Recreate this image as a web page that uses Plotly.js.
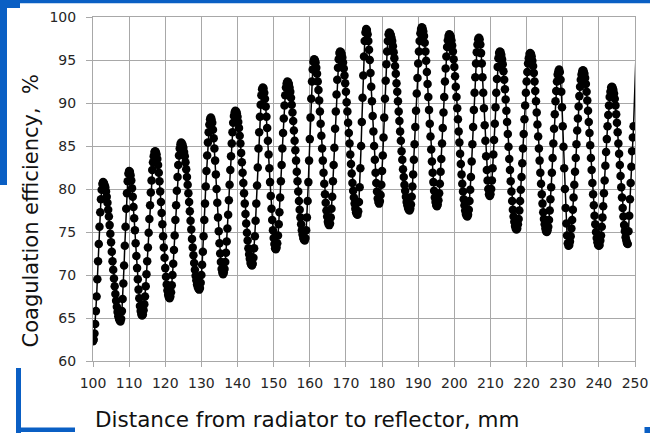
<!DOCTYPE html>
<html>
<head>
<meta charset="utf-8">
<script src="https://cdn.plot.ly/plotly-3.0.1.min.js"></script>
<style>
  html, body { margin: 0; padding: 0; background: #ffffff; }
  #chart { width: 650px; height: 433px; }
</style>
</head>
<body>
<div id="chart"></div>
<script>
// Distance from radiator to reflector, mm (sampling positions of the dots)
const distance = [
100,100.2,100.4,100.6,100.8,101,101.2,101.4,101.6,101.8,
102,102.2,102.4,102.6,102.8,103,103.2,103.4,103.6,103.8,
104,104.2,104.4,104.6,104.8,105,105.2,105.4,105.6,105.8,
106,106.2,106.4,106.6,106.8,107,107.2,107.4,107.6,107.8,
108,108.2,108.4,108.6,108.8,109,109.2,109.4,109.6,109.8,
110,110.2,110.4,110.6,110.8,111,111.2,111.4,111.6,111.8,
112,112.2,112.4,112.6,112.8,113,113.2,113.4,113.6,113.8,
114,114.2,114.4,114.6,114.8,115,115.2,115.4,115.6,115.8,
116,116.2,116.4,116.6,116.8,117,117.2,117.4,117.6,117.8,
118,118.2,118.4,118.6,118.8,119,119.2,119.4,119.6,119.8,
120,120.2,120.4,120.6,120.8,121,121.2,121.4,121.6,121.8,
122,122.2,122.4,122.6,122.8,123,123.2,123.4,123.6,123.8,
124,124.2,124.4,124.6,124.8,125,125.2,125.4,125.6,125.8,
126,126.2,126.4,126.6,126.8,127,127.2,127.4,127.6,127.8,
128,128.2,128.4,128.6,128.8,129,129.2,129.4,129.6,129.8,
130,130.2,130.4,130.6,130.8,131,131.2,131.4,131.6,131.8,
132,132.2,132.4,132.6,132.8,133,133.2,133.4,133.6,133.8,
134,134.2,134.4,134.6,134.8,135,135.2,135.4,135.6,135.8,
136,136.2,136.4,136.6,136.8,137,137.2,137.4,137.6,137.8,
138,138.2,138.4,138.6,138.8,139,139.2,139.4,139.6,139.8,
140,140.2,140.4,140.6,140.8,141,141.2,141.4,141.6,141.8,
142,142.2,142.4,142.6,142.8,143,143.2,143.4,143.6,143.8,
144,144.2,144.4,144.6,144.8,145,145.2,145.4,145.6,145.8,
146,146.2,146.4,146.6,146.8,147,147.2,147.4,147.6,147.8,
148,148.2,148.4,148.6,148.8,149,149.2,149.4,149.6,149.8,
150,150.2,150.4,150.6,150.8,151,151.2,151.4,151.6,151.8,
152,152.2,152.4,152.6,152.8,153,153.2,153.4,153.6,153.8,
154,154.2,154.4,154.6,154.8,155,155.2,155.4,155.6,155.8,
156,156.2,156.4,156.6,156.8,157,157.2,157.4,157.6,157.8,
158,158.2,158.4,158.6,158.8,159,159.2,159.4,159.6,159.8,
160,160.2,160.4,160.6,160.8,161,161.2,161.4,161.6,161.8,
162,162.2,162.4,162.6,162.8,163,163.2,163.4,163.6,163.8,
164,164.2,164.4,164.6,164.8,165,165.2,165.4,165.6,165.8,
166,166.2,166.4,166.6,166.8,167,167.2,167.4,167.6,167.8,
168,168.2,168.4,168.6,168.8,169,169.2,169.4,169.6,169.8,
170,170.2,170.4,170.6,170.8,171,171.2,171.4,171.6,171.8,
172,172.2,172.4,172.6,172.8,173,173.2,173.4,173.6,173.8,
174,174.2,174.4,174.6,174.8,175,175.2,175.4,175.6,175.8,
176,176.2,176.4,176.6,176.8,177,177.2,177.4,177.6,177.8,
178,178.2,178.4,178.6,178.8,179,179.2,179.4,179.6,179.8,
180,180.2,180.4,180.6,180.8,181,181.2,181.4,181.6,181.8,
182,182.2,182.4,182.6,182.8,183,183.2,183.4,183.6,183.8,
184,184.2,184.4,184.6,184.8,185,185.2,185.4,185.6,185.8,
186,186.2,186.4,186.6,186.8,187,187.2,187.4,187.6,187.8,
188,188.2,188.4,188.6,188.8,189,189.2,189.4,189.6,189.8,
190,190.2,190.4,190.6,190.8,191,191.2,191.4,191.6,191.8,
192,192.2,192.4,192.6,192.8,193,193.2,193.4,193.6,193.8,
194,194.2,194.4,194.6,194.8,195,195.2,195.4,195.6,195.8,
196,196.2,196.4,196.6,196.8,197,197.2,197.4,197.6,197.8,
198,198.2,198.4,198.6,198.8,199,199.2,199.4,199.6,199.8,
200,200.2,200.4,200.6,200.8,201,201.2,201.4,201.6,201.8,
202,202.2,202.4,202.6,202.8,203,203.2,203.4,203.6,203.8,
204,204.2,204.4,204.6,204.8,205,205.2,205.4,205.6,205.8,
206,206.2,206.4,206.6,206.8,207,207.2,207.4,207.6,207.8,
208,208.2,208.4,208.6,208.8,209,209.2,209.4,209.6,209.8,
210,210.2,210.4,210.6,210.8,211,211.2,211.4,211.6,211.8,
212,212.2,212.4,212.6,212.8,213,213.2,213.4,213.6,213.8,
214,214.2,214.4,214.6,214.8,215,215.2,215.4,215.6,215.8,
216,216.2,216.4,216.6,216.8,217,217.2,217.4,217.6,217.8,
218,218.2,218.4,218.6,218.8,219,219.2,219.4,219.6,219.8,
220,220.2,220.4,220.6,220.8,221,221.2,221.4,221.6,221.8,
222,222.2,222.4,222.6,222.8,223,223.2,223.4,223.6,223.8,
224,224.2,224.4,224.6,224.8,225,225.2,225.4,225.6,225.8,
226,226.2,226.4,226.6,226.8,227,227.2,227.4,227.6,227.8,
228,228.2,228.4,228.6,228.8,229,229.2,229.4,229.6,229.8,
230,230.2,230.4,230.6,230.8,231,231.2,231.4,231.6,231.8,
232,232.2,232.4,232.6,232.8,233,233.2,233.4,233.6,233.8,
234,234.2,234.4,234.6,234.8,235,235.2,235.4,235.6,235.8,
236,236.2,236.4,236.6,236.8,237,237.2,237.4,237.6,237.8,
238,238.2,238.4,238.6,238.8,239,239.2,239.4,239.6,239.8,
240,240.2,240.4,240.6,240.8,241,241.2,241.4,241.6,241.8,
242,242.2,242.4,242.6,242.8,243,243.2,243.4,243.6,243.8,
244,244.2,244.4,244.6,244.8,245,245.2,245.4,245.6,245.8,
246,246.2,246.4,246.6,246.8,247,247.2,247.4,247.6,247.8,
248,248.2,248.4,248.6,248.8,249,249.2,249.4,249.6,251
];

// Coagulation efficiency, % (one value per dot)
const efficiency = [
62.3,62.5,63.2,64.3,65.8,67.5,69.5,71.6,73.6,75.6,77.3,78.8,79.9,80.6,80.8,
80.7,80.5,80.2,79.7,79.1,78.4,77.6,76.8,75.8,74.8,73.8,72.7,71.6,70.6,69.6,68.7,67.8,67.0,66.3,65.7,65.2,64.9,64.7,64.6,
64.9,65.8,67.2,69.0,71.1,73.4,75.6,77.7,79.5,80.9,81.8,82.1,
82.0,81.6,81.0,80.1,79.1,77.9,76.6,75.2,73.7,72.2,70.8,69.5,68.3,67.3,66.4,65.8,65.4,65.3,
65.4,65.9,66.6,67.5,68.7,70.1,71.6,73.2,74.9,76.5,78.1,79.6,81.0,82.2,83.1,83.8,84.3,84.4,
84.3,84.0,83.5,82.8,81.9,80.9,79.7,78.5,77.2,75.9,74.5,73.2,72.0,70.8,69.8,68.9,68.2,67.7,67.4,67.3,
67.5,68.0,68.8,70.0,71.3,72.9,74.6,76.4,78.1,79.8,81.4,82.8,83.9,84.7,85.2,85.4,
85.3,85.1,84.8,84.3,83.8,83.1,82.3,81.4,80.5,79.5,78.5,77.4,76.3,75.3,74.2,73.2,72.3,71.4,70.6,69.9,69.4,68.9,68.6,68.4,68.3,
68.5,69.1,70.0,71.2,72.7,74.5,76.4,78.3,80.3,82.1,83.9,85.4,86.6,87.5,88.1,88.3,
88.1,87.7,86.9,85.9,84.7,83.3,81.7,80.0,78.4,76.7,75.1,73.7,72.5,71.5,70.7,70.3,70.1,
70.3,70.7,71.5,72.6,73.9,75.4,77.0,78.7,80.5,82.2,83.8,85.3,86.6,87.7,88.5,88.9,89.1,
89.0,88.8,88.4,87.8,87.1,86.2,85.3,84.2,83.1,81.9,80.7,79.5,78.3,77.1,76.0,74.9,74.0,73.1,72.4,71.9,71.4,71.2,71.1,
71.3,72.0,73.1,74.5,76.3,78.3,80.4,82.5,84.7,86.6,88.4,89.8,90.9,91.6,91.8,
91.7,91.2,90.5,89.6,88.4,87.1,85.6,84.0,82.4,80.8,79.2,77.7,76.4,75.2,74.3,73.6,73.1,73.0,
73.2,73.7,74.6,75.9,77.3,79.0,80.9,82.8,84.7,86.5,88.2,89.7,90.9,91.8,92.3,92.5,
92.4,92.2,91.8,91.3,90.6,89.8,88.9,87.9,86.8,85.6,84.5,83.3,82.0,80.9,79.7,78.6,77.6,76.7,75.9,75.2,74.7,74.3,74.1,74.0,
74.3,75.2,76.7,78.6,80.8,83.3,85.8,88.3,90.5,92.5,93.9,94.8,95.1,
95.0,94.7,94.1,93.4,92.5,91.5,90.3,89.0,87.6,86.2,84.7,83.3,81.9,80.6,79.4,78.4,77.5,76.8,76.2,75.9,75.8,
76.0,76.7,77.7,79.1,80.9,82.8,84.8,87.0,89.0,91.0,92.7,94.1,95.1,95.8,96.0,
95.9,95.7,95.3,94.7,94.0,93.2,92.3,91.3,90.1,89.0,87.7,86.5,85.3,84.0,82.9,81.8,80.7,79.8,79.0,78.3,77.7,77.3,77.1,77.0,
77.4,78.5,80.2,82.4,85.0,87.8,90.6,93.2,95.4,97.2,98.2,98.6,
98.5,98.0,97.2,96.2,95.0,93.5,91.9,90.2,88.5,86.7,85.0,83.4,81.9,80.7,79.7,78.9,78.5,78.3,
78.6,79.3,80.5,82.1,83.9,86.0,88.3,90.5,92.6,94.5,96.0,97.2,98.0,98.2,
98.1,97.9,97.6,97.2,96.6,95.9,95.2,94.3,93.4,92.3,91.3,90.2,89.0,87.9,86.7,85.6,84.4,83.4,82.3,81.4,80.5,79.8,79.1,78.5,78.1,77.8,77.6,77.5,
77.7,78.2,79.1,80.3,81.7,83.4,85.2,87.2,89.1,91.1,92.9,94.6,96.0,97.2,98.1,98.6,98.8,
98.7,98.3,97.8,97.0,96.0,94.9,93.6,92.2,90.7,89.2,87.6,86.1,84.6,83.2,81.9,80.8,79.8,79.0,78.5,78.1,78.0,
78.2,78.7,79.5,80.6,82.0,83.5,85.3,87.1,88.9,90.7,92.5,94.0,95.4,96.5,97.3,97.8,98.0,
97.9,97.7,97.3,96.7,96.0,95.1,94.2,93.1,91.9,90.7,89.4,88.1,86.7,85.4,84.1,82.9,81.7,80.6,79.7,78.8,78.1,77.5,77.1,76.9,76.8,
77.0,77.6,78.6,79.9,81.4,83.2,85.2,87.2,89.2,91.2,93.0,94.6,95.9,96.8,97.4,97.6,
97.4,96.8,95.8,94.6,93.0,91.2,89.4,87.4,85.6,83.8,82.2,81.0,80.0,79.4,79.2,
79.4,80.0,81.0,82.4,84.0,85.7,87.6,89.5,91.2,92.8,94.2,95.2,95.8,96.0,
95.9,95.6,95.1,94.5,93.7,92.7,91.6,90.4,89.1,87.8,86.4,84.9,83.5,82.2,80.9,79.7,78.6,77.6,76.8,76.2,75.7,75.4,75.3,
75.4,75.9,76.5,77.5,78.6,79.9,81.4,83.0,84.7,86.4,88.1,89.7,91.2,92.5,93.6,94.6,95.2,95.7,95.8,
95.7,95.4,94.9,94.3,93.5,92.5,91.4,90.2,88.9,87.5,86.1,84.7,83.3,81.9,80.6,79.4,78.3,77.3,76.5,75.9,75.4,75.1,75.0,
75.2,75.6,76.4,77.5,78.8,80.2,81.9,83.6,85.3,87.0,88.7,90.2,91.4,92.5,93.3,93.7,93.9,
93.6,92.7,91.3,89.5,87.3,84.9,82.4,80.0,77.8,76.0,74.6,73.7,73.4,
73.5,73.9,74.5,75.4,76.4,77.6,79.0,80.5,82.0,83.6,85.2,86.8,88.2,89.6,90.8,91.9,92.7,93.3,93.7,93.8,
93.7,93.4,92.9,92.2,91.3,90.3,89.1,87.8,86.5,85.1,83.6,82.2,80.7,79.4,78.1,76.9,75.9,75.0,74.3,73.8,73.5,73.4,
73.5,74.0,74.6,75.6,76.7,78.0,79.5,81.0,82.7,84.3,85.8,87.3,88.6,89.7,90.7,91.3,91.8,91.9,
91.8,91.5,91.1,90.5,89.7,88.7,87.7,86.6,85.3,84.1,82.8,81.5,80.2,79.0,77.8,76.8,75.8,75.1,74.4,74.0,73.7,73.6,
75.1,76.9,78.8,80.7,82.6,84.4,86.0,87.3,104.5
];

const xTickVals = [100,110,120,130,140,150,160,170,180,190,200,210,220,230,240,250];
const yTickVals = [60,65,70,75,80,85,90,95,100];
const xTitle = 'Distance from radiator to reflector, mm';
const yTitle = 'Coagulation efficiency,\u00a0\u00a0%';

// plot area in pixels
const PL = 93, PR = 635, PT = 17, PB = 361;
const px = v => (v - PL) / (PR - PL);
const py = v => (PB - v) / (PB - PT);
const blue = '#0a5fc4';
function rect(x0, y0, x1, y1) {
  return {type: 'rect', xref: 'paper', yref: 'paper', x0: px(x0), x1: px(x1), y0: py(y1), y1: py(y0),
          fillcolor: blue, line: {width: 0}, layer: 'above'};
}

const trace = {
  x: distance, y: efficiency, type: 'scatter', mode: 'lines+markers',
  line: {color: '#000000', width: 1.5},
  marker: {color: '#000000', size: 8.5},
  hoverinfo: 'skip'
};

const gridCol = '#a8a8a8';
const layout = {
  width: 650, height: 433,
  margin: {l: PL, r: 650 - PR, t: PT, b: 433 - PB, pad: 0},
  paper_bgcolor: '#ffffff', plot_bgcolor: '#ffffff',
  showlegend: false,
  font: {family: 'DejaVu Sans, Verdana, sans-serif', size: 14, color: '#262626'},
  xaxis: {
    range: [100, 250], tickmode: 'array', tickvals: xTickVals, ticktext: xTickVals.map(String),
    showgrid: true, gridcolor: gridCol, gridwidth: 1,
    showline: true, linecolor: gridCol, linewidth: 1, mirror: true,
    ticks: 'outside', ticklen: 5, tickcolor: gridCol, tickwidth: 1,
    zeroline: false, ticklabelstandoff: 4,
    tickfont: {size: 14, color: '#262626'}
  },
  yaxis: {
    range: [60, 100], tickmode: 'array', tickvals: yTickVals, ticktext: yTickVals.map(String),
    showgrid: true, gridcolor: gridCol, gridwidth: 1,
    showline: true, linecolor: gridCol, linewidth: 1, mirror: true,
    ticks: 'outside', ticklen: 6, tickcolor: gridCol, tickwidth: 1,
    zeroline: false, ticklabelstandoff: 7,
    tickfont: {size: 14, color: '#262626'}
  },
  annotations: [
    {text: xTitle, xref: 'paper', yref: 'paper', x: px(306.5), y: py(419.5),
     xanchor: 'center', yanchor: 'middle', showarrow: false,
     font: {size: 21.5, color: '#111111', family: 'DejaVu Sans, Verdana, sans-serif'}},
    {text: yTitle, xref: 'paper', yref: 'paper', x: px(30), y: py(211.5),
     xanchor: 'center', yanchor: 'middle', showarrow: false, textangle: -90,
     font: {size: 21, color: '#111111', family: 'DejaVu Sans, Verdana, sans-serif'}}
  ],
  shapes: [
    rect(0, 0, 650, 3.3),
    rect(0, 0, 20, 8),
    rect(0, 0, 7, 185),
    rect(16, 368, 21, 433),
    rect(16, 427.5, 75, 432),
    rect(644.5, 427, 650, 433)
  ]
};

Plotly.newPlot('chart', [trace], layout, {staticPlot: true, displayModeBar: false});
</script>
</body>
</html>
